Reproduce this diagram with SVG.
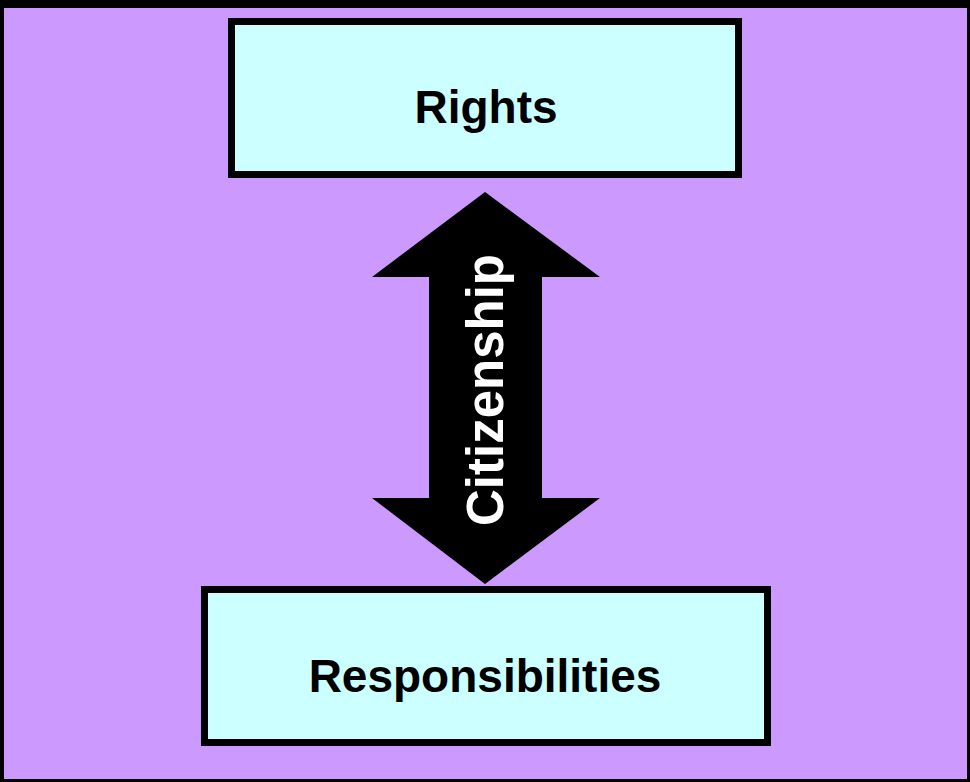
<svg xmlns="http://www.w3.org/2000/svg" width="970" height="782" viewBox="0 0 970 782">
<style>
.box{fill:#CCFFFF;stroke:#000;stroke-width:7}
.lbl{font-family:"Liberation Sans",Arial,sans-serif;font-weight:bold;fill:#000;text-anchor:middle}
</style>
<rect x="0" y="0" width="970" height="782" fill="#000"/>
<rect x="4" y="8" width="963" height="771" fill="#CC99FF"/>
<g id="rights">
<rect class="box" x="231.5" y="21.5" width="507" height="153"/>
<text class="lbl" x="486" y="123" font-size="46">Rights</text>
</g>
<g id="responsibilities">
<rect class="box" x="204.5" y="589.5" width="563" height="153"/>
<text class="lbl" x="485" y="692" font-size="46">Responsibilities</text>
</g>
<g id="connectors">
<polygon points="485,192 600,277 542,277 542,498 600,498 485,584 372,498 429,498 429,277 372,277" fill="#000"/>
<text class="lbl" transform="translate(503,390) rotate(-90)" font-size="51" style="fill:#fff">Citizenship</text>
</g>
</svg>
